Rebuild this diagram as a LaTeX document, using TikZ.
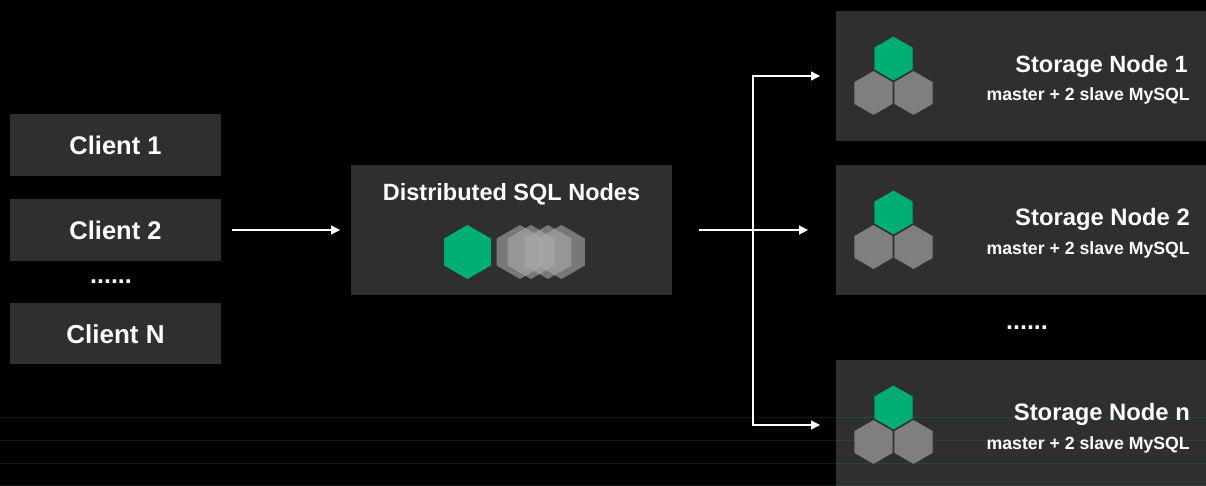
\documentclass[tikz,border=0pt]{standalone}
\usepackage{fontspec}
\setmainfont{Liberation Sans}
\usetikzlibrary{shapes.geometric,arrows.meta}
\definecolor{boxgray}{HTML}{2F2F2F}
\definecolor{hexgreen}{HTML}{00AE72}
\definecolor{hexgray}{HTML}{7F7F7F}
\definecolor{hexghost}{HTML}{AAAAAA}
\tikzset{
  box/.style={fill=boxgray, inner sep=0pt, outer sep=0pt},
  hex/.style={regular polygon, regular polygon sides=6, shape border rotate=30, inner sep=0pt, outer sep=0pt, minimum size=45pt},
  stackhex/.style={hex, draw=boxgray, line width=0.7pt},
  bighex/.style={hex, minimum size=54pt},
  ghost/.style={bighex, fill=hexghost, fill opacity=0.6},
  label/.style={text=white, inner sep=0pt, yshift=-2pt},
  link/.style={white, line width=1.2pt, -{Triangle[length=9pt,width=9pt]}},
  faint/.style={hexgreen, opacity=0.2, line width=1.2pt}
}
\begin{document}
\begin{tikzpicture}[x=1pt,y=-1pt]
\fill [black] (0,0) rectangle (1206,486);
\useasboundingbox (0,0) rectangle (1206,486);

% the clients
\node [box, minimum width=211pt, minimum height=62pt] (client1) at (115.5,145) {};
\node [box, minimum width=211pt, minimum height=62pt] (client2) at (115.5,230) {};
\node [box, minimum width=211pt, minimum height=61pt] (clientn) at (115.5,333.5) {};
\node [label, font=\bfseries\fontsize{25.5}{25.5}\selectfont, yshift=1.2pt] at (client1) {Client 1};
\node [label, font=\bfseries\fontsize{25.5}{25.5}\selectfont, yshift=1.2pt] at (client2) {Client 2};
\node [label, font=\bfseries\fontsize{26}{26}\selectfont, yshift=1.2pt] at (clientn) {Client N};
\node [label, font=\bfseries\fontsize{25}{25}\selectfont] (dotsclient) at (111,280) {......};

% the sql nodes
\node [box, minimum width=321pt, minimum height=129pt] (sql) at (511.5,230) {};
\node [label, font=\bfseries\fontsize{23.5}{23.5}\selectfont] (sqltitle) at (511.5,192.5) {Distributed SQL Nodes};
\node [bighex, fill=hexgreen] (sqlgreen) at (467.5,252) {};
\node [ghost] (sqlgray1) at (520,252) {};
\node [ghost] (sqlgray2) at (531,252) {};
\node [ghost] (sqlgray3) at (548,252) {};
\node [ghost] (sqlgray4) at (561.5,252) {};

% the storage nodes
\node [box, minimum width=370pt, minimum height=130pt] (store1) at (1021,76) {};
\node [box, minimum width=370pt, minimum height=129pt] (store2) at (1021,230) {};
\node [box, minimum width=370pt, minimum height=130pt] (storen) at (1021,425) {};

% the faint lines
\draw [faint] (0,417.5)--(1206,417.5);
\draw [faint] (0,440.5)--(1206,440.5);
\draw [faint] (0,463.5)--(1206,463.5);
\draw [faint] (0,485.5)--(1206,485.5);

\node [stackhex, fill=hexgray] (s1a) at (873.5,93) {};
\node [stackhex, fill=hexgray] (s1b) at (913.5,93) {};
\node [stackhex, fill=hexgreen] (s1c) at (893.5,58.5) {};
\node [stackhex, fill=hexgray] (s2a) at (873.5,247) {};
\node [stackhex, fill=hexgray] (s2b) at (913.5,247) {};
\node [stackhex, fill=hexgreen] (s2c) at (893.5,212.5) {};
\node [stackhex, fill=hexgray] (sna) at (873.5,442) {};
\node [stackhex, fill=hexgray] (snb) at (913.5,442) {};
\node [stackhex, fill=hexgreen] (snc) at (893.5,407.5) {};

\node [label, anchor=east, font=\bfseries\fontsize{23.5}{23.5}\selectfont] (t1) at (1188,64) {Storage Node 1};
\node [label, anchor=east, font=\bfseries\fontsize{17.7}{17.7}\selectfont] (m1) at (1190,94) {master + 2 slave MySQL};
\node [label, anchor=east, font=\bfseries\fontsize{23.8}{23.8}\selectfont] (t2) at (1190,217) {Storage Node 2};
\node [label, anchor=east, font=\bfseries\fontsize{17.7}{17.7}\selectfont] (m2) at (1190,248) {master + 2 slave MySQL};
\node [label, anchor=east, font=\bfseries\fontsize{23.8}{23.8}\selectfont] (tn) at (1190,412) {Storage Node n};
\node [label, anchor=east, font=\bfseries\fontsize{17.7}{17.7}\selectfont] (mn) at (1190,443) {master + 2 slave MySQL};
\node [label, font=\bfseries\fontsize{25}{25}\selectfont] (dotsstore) at (1027,326) {......};

% the arrows
\coordinate (split) at (753,230);
\draw [link, shorten <=11pt, shorten >=11pt] (client2) -- (sql);
\draw [link, shorten <=27pt, shorten >=28pt] (sql) -- (store2);
\draw [link, shorten >=16pt] (split) |- (store1);
\draw [link, shorten >=16pt] (split) |- (storen);
\end{tikzpicture}
\end{document}
